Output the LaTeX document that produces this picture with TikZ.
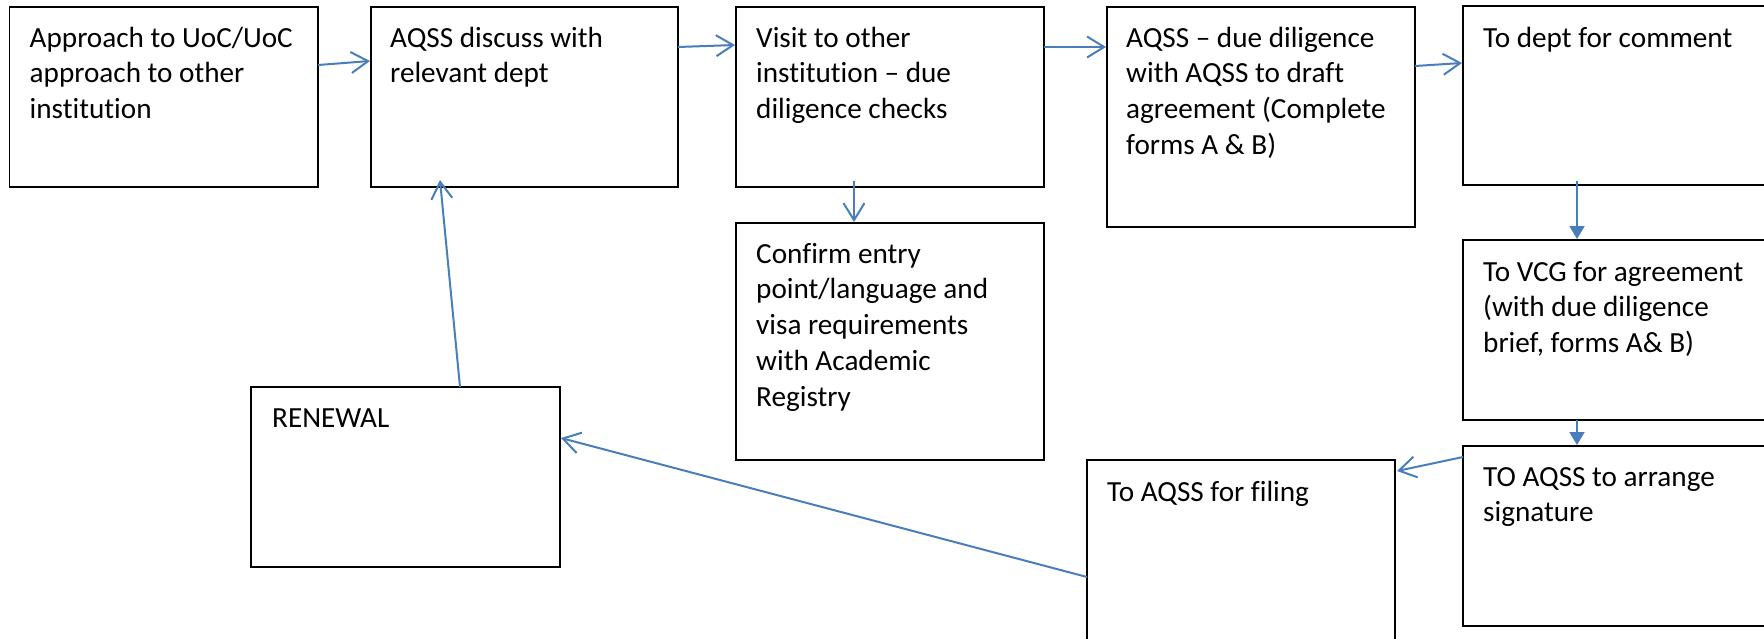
\documentclass[tikz,border=0pt]{standalone}
\usepackage{fontspec}
\setmainfont{Carlito}[Ligatures=NoCommon]
\usetikzlibrary{arrows.meta,calc}
\definecolor{conn}{HTML}{4A7EBB}
\newcommand\tstrut{\rule{0pt}{31pt}}
\begin{document}
\begin{tikzpicture}[x=1pt,y=-1pt,
  box/.style={draw=black, line width=1.3pt, minimum width=308pt, minimum height=180pt, inner sep=0pt, outer sep=0pt, anchor=north west},
  txt/.style={anchor=north west, inner sep=0pt, align=left, font=\fontsize{29.2}{35.7}\selectfont},
  oarr/.style={draw=conn, line width=2pt, -{Straight Barb[length=17pt,width=21pt,line width=2pt]}},
  tarr/.style={draw=conn, line width=2pt, -{Triangle[length=13pt,width=15pt]}}]
\path[use as bounding box, clip] (0,0) rectangle (1764,638);
% boxes
\node[box, minimum width=308.5pt] (b1) at (9.5,7) {};
\node[box, minimum width=307pt] (b2) at (371,7) {};
\node[box] (b3) at (736,7) {};
\node[box, minimum height=220pt] (b4) at (1107,7) {};
\node[box, minimum height=179pt] (b5) at (1463,6) {};
\node[box] (b6) at (1463,240) {};
\node[box] (b7) at (1463,446) {};
\node[box] (b8) at (1087,460) {};
\node[box, minimum height=237pt] (b9) at (736,223) {};
\node[box, minimum width=309pt] (b10) at (251,387) {};
% texts
\node[txt] (t1) at ($(b1.north west)+(20,9)$) {\tstrut Approach to UoC/UoC\\approach to other\\institution};
\node[txt] (t2) at ($(b2.north west)+(19,9)$) {\tstrut AQSS discuss with\\relevant dept};
\node[txt] (t3) at ($(b3.north west)+(20,9)$) {\tstrut Visit to other\\institution – due\\diligence checks};
\node[txt] (t4) at ($(b4.north west)+(19,9)$) {\tstrut AQSS – due diligence\\with AQSS to draft\\agreement (Complete\\forms A \& B)};
\node[txt] (t5) at ($(b5.north west)+(20,10)$) {\tstrut To dept for comment};
\node[txt] (t6) at ($(b6.north west)+(20,10)$) {\tstrut To VCG for agreement\\(with due diligence\\brief, forms A\& B)};
\node[txt] (t7) at ($(b7.north west)+(20,9)$) {\tstrut TO AQSS to arrange\\signature};
\node[txt] (t8) at ($(b8.north west)+(20,10)$) {\tstrut To AQSS for filing};
\node[txt] (t9) at ($(b9.north west)+(20,9)$) {\tstrut Confirm entry\\point/language and\\visa requirements\\with Academic\\Registry};
\node[txt] (t10) at ($(b10.north west)+(21,9)$) {\tstrut RENEWAL};
% connectors
\draw[oarr] ($(b1.north east)+(0,58)$) -- ($(b2.north west)+(-1,54)$);
\draw[oarr] ($(b2.north east)+(0,40)$) -- ($(b3.north west)+(-1,38)$);
\draw[oarr] ($(b3.north east)+(0,40)$) -- ($(b4.north west)+(-1,40)$);
\draw[oarr] ($(b4.north east)+(0,59)$) -- ($(b5.north west)+(-1,57)$);
\draw[tarr] ($(b5.south west)+(114,-4)$) -- ($(b6.north west)+(114,-1)$);
\draw[tarr] ($(b6.south west)+(114,0)$) -- ($(b7.north west)+(114,-1)$);
\draw[oarr] ($(b7.north west)+(0,11)$) -- ($(b8.north east)+(2,11)$);
\draw[oarr] ($(b8.north west)+(0,117)$) -- ($(b10.north east)+(1,51)$);
\draw[oarr] ($(b10.north west)+(209,0)$) -- ($(b2.south west)+(69,-7)$);
\draw[oarr] ($(b3.south west)+(118,-6)$) -- ($(b9.north west)+(118,-1)$);
\end{tikzpicture}
\end{document}
